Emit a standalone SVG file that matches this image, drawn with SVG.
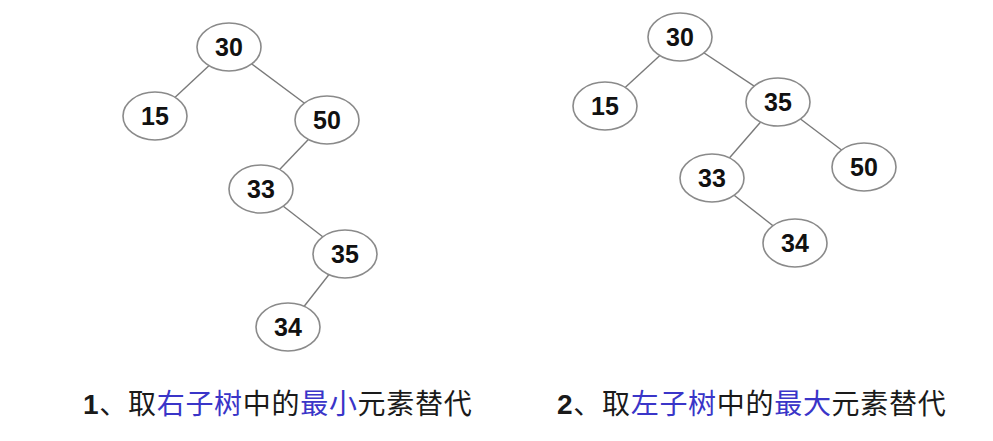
<svg xmlns="http://www.w3.org/2000/svg" width="993" height="441" viewBox="0 0 993 441">
<style>
.n ellipse{fill:#fff;stroke:#8a8a8a;stroke-width:1.6}
.n text{font-family:"Liberation Sans",Arial,sans-serif;font-weight:bold;font-size:25px;fill:#111;text-anchor:middle}
.e line{stroke:#7a7a7a;stroke-width:1.4}
.cap{font-family:"Liberation Sans","Noto Sans CJK SC",sans-serif;font-size:28px;fill:#1a1a1a;letter-spacing:0.7px}
.b{fill:#3a35c8}
</style>
<rect width="993" height="441" fill="#fff"/>
<g id="connectors" class="e">
<line x1="229" y1="47" x2="155" y2="116"/>
<line x1="229" y1="47" x2="327" y2="120"/>
<line x1="327" y1="120" x2="261" y2="189"/>
<line x1="261" y1="189" x2="345" y2="254"/>
<line x1="345" y1="254" x2="288" y2="327"/>
<line x1="680" y1="37" x2="605" y2="106"/>
<line x1="680" y1="37" x2="778" y2="102"/>
<line x1="778" y1="102" x2="712" y2="178"/>
<line x1="778" y1="102" x2="864" y2="167"/>
<line x1="712" y1="178" x2="795" y2="243"/>
</g>
<g id="L30" class="n"><ellipse cx="229" cy="47" rx="32" ry="24"/><text x="229" y="56">30</text></g>
<g id="L15" class="n"><ellipse cx="155" cy="116" rx="32" ry="24"/><text x="155" y="125">15</text></g>
<g id="L50" class="n"><ellipse cx="327" cy="120" rx="32" ry="24"/><text x="327" y="129">50</text></g>
<g id="L33" class="n"><ellipse cx="261" cy="189" rx="32" ry="24"/><text x="261" y="198">33</text></g>
<g id="L35" class="n"><ellipse cx="345" cy="254" rx="32" ry="24"/><text x="345" y="263">35</text></g>
<g id="L34" class="n"><ellipse cx="288" cy="327" rx="32" ry="24"/><text x="288" y="336">34</text></g>
<g id="R30" class="n"><ellipse cx="680" cy="37" rx="32" ry="24"/><text x="680" y="46">30</text></g>
<g id="R15" class="n"><ellipse cx="605" cy="106" rx="32" ry="24"/><text x="605" y="115">15</text></g>
<g id="R35" class="n"><ellipse cx="778" cy="102" rx="32" ry="24"/><text x="778" y="111">35</text></g>
<g id="R33" class="n"><ellipse cx="712" cy="178" rx="32" ry="24"/><text x="712" y="187">33</text></g>
<g id="R50" class="n"><ellipse cx="864" cy="167" rx="32" ry="24"/><text x="864" y="176">50</text></g>
<g id="R34" class="n"><ellipse cx="795" cy="243" rx="32" ry="24"/><text x="795" y="252">34</text></g>
<text class="cap" x="83" y="414"><tspan font-weight="bold">1</tspan>、取<tspan class="b">右子树</tspan>中的<tspan class="b">最小</tspan>元素替代</text>
<text class="cap" x="557" y="414"><tspan font-weight="bold">2</tspan>、取<tspan class="b">左子树</tspan>中的<tspan class="b">最大</tspan>元素替代</text>
</svg>
